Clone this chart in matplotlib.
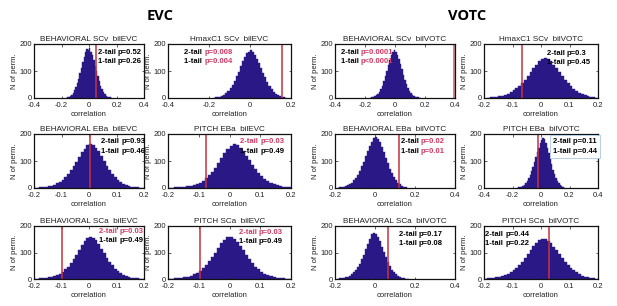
import numpy as np
import matplotlib
matplotlib.use('Agg')
import matplotlib.pyplot as plt

plt.rcParams['font.family'] = ['Liberation Sans', 'DejaVu Sans']

# Permutation histograms, bin width 0.01, counts
# (first bin left edge, counts)
evc_beh_scv_lo = -0.17
evc_beh_scv = [1, 2, 4, 7, 12, 19, 28, 40, 55, 72, 92, 112, 133, 152, 170, 182, 178,
               186, 172, 160, 140, 120, 100, 80, 62, 46, 33, 22, 14, 9, 5, 3, 2, 1]
evc_hmax_scv_lo = -0.18
evc_hmax_scv = [1, 2, 3, 5, 8, 12, 18, 26, 36, 48, 62, 80, 98, 118, 136, 152, 165, 172,
                176, 170, 160, 146, 130, 112, 94, 76, 60, 45, 33, 23, 15, 10, 6, 3, 2, 1]
votc_beh_scv_lo = -0.17
votc_beh_scv = [1, 2, 4, 6, 10, 16, 24, 34, 46, 62, 80, 100, 122, 142, 160, 172, 176,
                170, 160, 144, 126, 106, 86, 68, 52, 38, 27, 18, 12, 8, 5, 3, 2, 1]
votc_hmax_scv_lo = -0.19
votc_hmax_scv = [1, 2, 3, 4, 6, 9, 12, 16, 22, 28, 36, 46, 56, 68, 82, 96, 110, 124, 136,
                 146, 150, 145, 136, 124, 110, 96, 82, 68, 56, 45, 35, 27, 20, 14, 10, 6, 4, 2, 1]

evc_beh_eba_lo = -0.20
evc_beh_eba = [1, 1, 2, 3, 4, 6, 9, 12, 17, 23, 30, 40, 52, 66, 82, 98, 115, 132, 146, 158,
               164, 160, 150, 136, 118, 100, 82, 66, 51, 39, 29, 21, 15, 10, 7, 5, 3, 2, 1, 1]
evc_pitch_eba_lo = -0.20
evc_pitch_eba = [1, 1, 2, 2, 3, 4, 6, 8, 11, 15, 20, 27, 36, 47, 60, 75, 92, 110, 128, 144,
                 156, 164, 160, 150, 136, 120, 103, 86, 70, 56, 44, 34, 26, 19, 14, 10, 7, 5, 3, 2]
votc_beh_eba_lo = -0.19
votc_beh_eba = [1, 2, 3, 5, 7, 10, 14, 20, 28, 38, 50, 64, 80, 98, 118, 138, 156, 172, 184,
                190, 182, 170, 152, 132, 112, 92, 72, 56, 42, 30, 20, 13, 8, 4, 2]
votc_pitch_eba_lo = -0.17
votc_pitch_eba = [1, 2, 3, 5, 8, 12, 18, 26, 36, 48, 62, 78, 96, 114, 132, 150, 166, 176,
                  184, 180, 168, 150, 130, 108, 88, 68, 52, 38, 26, 17, 10, 6, 3, 1]

evc_beh_sca_lo = -0.20
evc_beh_sca = [1, 1, 2, 3, 4, 6, 8, 11, 15, 20, 27, 36, 47, 60, 75, 92, 110, 128, 144, 155,
               160, 156, 146, 132, 115, 98, 81, 65, 51, 39, 29, 21, 15, 10, 7, 5, 3, 2, 1, 1]
evc_pitch_sca_lo = -0.20
evc_pitch_sca = [1, 1, 2, 3, 4, 6, 9, 12, 17, 23, 31, 41, 53, 67, 83, 100, 118, 135, 148, 157,
                 158, 152, 140, 125, 108, 91, 75, 60, 47, 36, 27, 20, 14, 10, 7, 5, 3, 2, 1, 1]
votc_beh_sca_lo = -0.19
votc_beh_sca = [1, 2, 3, 4, 6, 9, 13, 18, 25, 34, 45, 58, 74, 92, 112, 132, 152, 168, 175,
                170, 158, 142, 122, 102, 82, 64, 48, 35, 25, 17, 11, 7, 4, 2, 1, 1]
votc_pitch_sca_lo = -0.20
votc_pitch_sca = [1, 2, 3, 4, 6, 8, 11, 15, 20, 26, 33, 42, 53, 66, 80, 95, 110, 124, 136, 146,
                  152, 150, 144, 135, 122, 108, 94, 80, 66, 54, 43, 33, 25, 18, 13, 9, 6, 4, 2, 1]

binw = 0.01

titles = ['BEHAVIORAL SCv  bilEVC', 'HmaxC1 SCv  bilEVC', 'BEHAVIORAL SCv  bilVOTC', 'HmaxC1 SCv  bilVOTC',
          'BEHAVIORAL EBa  bilEVC', 'PITCH EBa  bilEVC', 'BEHAVIORAL EBa  bilVOTC', 'PITCH EBa  bilVOTC',
          'BEHAVIORAL SCa  bilEVC', 'PITCH SCa  bilEVC', 'BEHAVIORAL SCa  bilVOTC', 'PITCH SCa  bilVOTC']
hists = [(evc_beh_scv_lo, evc_beh_scv), (evc_hmax_scv_lo, evc_hmax_scv),
         (votc_beh_scv_lo, votc_beh_scv), (votc_hmax_scv_lo, votc_hmax_scv),
         (evc_beh_eba_lo, evc_beh_eba), (evc_pitch_eba_lo, evc_pitch_eba),
         (votc_beh_eba_lo, votc_beh_eba), (votc_pitch_eba_lo, votc_pitch_eba),
         (evc_beh_sca_lo, evc_beh_sca), (evc_pitch_sca_lo, evc_pitch_sca),
         (votc_beh_sca_lo, votc_beh_sca), (votc_pitch_sca_lo, votc_pitch_sca)]
observed = [0.05, 0.155, 0.39, -0.065,
            0.005, -0.078, 0.122, -0.018,
            -0.1, -0.095, 0.066, 0.028]
xlims = [(-0.4, 0.4), (-0.4, 0.2), (-0.4, 0.4), (-0.2, 0.2),
         (-0.2, 0.2), (-0.2, 0.2), (-0.2, 0.4), (-0.4, 0.4),
         (-0.2, 0.2), (-0.2, 0.2), (-0.2, 0.4), (-0.2, 0.2)]
p_two = ['p=0.52', 'p=0.008', 'p=0.0001', 'p=0.3',
         'p=0.93', 'p=0.03', 'p=0.02', 'p=0.11',
         'p=0.03', 'p=0.03', 'p=0.17', 'p=0.44']
p_one = ['p=0.26', 'p=0.004', 'p<0.0001', 'p=0.45',
         'p=0.46', 'p=0.49', 'p=0.01', 'p=0.44',
         'p=0.49', 'p=0.49', 'p=0.08', 'p=0.22']
# which parts are drawn red: (2-tail label, 2-tail p, 1-tail p)
sig = [(0, 0, 0), (0, 1, 1), (0, 1, 1), (0, 0, 0),
       (0, 0, 0), (1, 1, 0), (0, 1, 1), (0, 0, 0),
       (1, 1, 0), (1, 1, 0), (0, 0, 0), (0, 0, 0)]

# layout in pixels
cols = [(34, 144), (168, 291), (335, 455), (484, 598)]
rows = [(44, 98), (134, 188), (226, 279)]
# text anchor (data x, y of first line bottom)
txt_pos = [(0.065, 156), (-0.32, 156), (-0.36, 156), (0.02, 152),
           (0.045, 158), (0.035, 158), (0.13, 158), (0.085, 156),
           (0.038, 166), (0.03, 162), (0.12, 156), (-0.195, 154)]

W, H = 617, 306
BLUE = '#2a1886'
RED = '#c8323c'
PRED = '#d23a62'
fs = 5.5

fig = plt.figure(figsize=(W / 100, H / 100), dpi=100)

for i in range(12):
    r, c = divmod(i, 4)
    x0, x1 = cols[c]
    y0, y1 = rows[r]
    ax = fig.add_axes([x0 / W, 1 - y1 / H, (x1 - x0) / W, (y1 - y0) / H])
    lo, counts = hists[i]
    edges = lo + binw * np.arange(len(counts))
    ax.bar(edges, counts, width=binw, align='edge', color=BLUE, edgecolor=BLUE, linewidth=0.3)
    if i == 2:
        ax.axvline(observed[i], color='#c98a8a', lw=2.2)
    else:
        ax.axvline(observed[i], color=RED, lw=1.1)
    ax.set_xlim(*xlims[i])
    ax.set_ylim(0, 200)
    ax.set_yticks([0, 100, 200])
    step = 0.1 if xlims[i][1] - xlims[i][0] < 0.5 else 0.2
    ax.set_xticks(np.round(np.arange(xlims[i][0], xlims[i][1] + 1e-9, step), 2))
    ax.xaxis.set_major_formatter(matplotlib.ticker.FuncFormatter(lambda v, p: '0' if abs(v) < 1e-9 else ('%g' % v)))
    ax.tick_params(direction='in', length=1.8, width=0.5, labelsize=fs, top=True, right=True,
                   colors='#222222')
    ax.tick_params(axis='x', pad=3.2)
    ax.tick_params(axis='y', pad=1.5)
    for s in ax.spines.values():
        s.set_linewidth(0.9)
        s.set_color('#111111')
    ax.set_title(titles[i], fontsize=fs + 0.4, pad=2, color='#222222')
    ax.set_xlabel('correlation', fontsize=fs, labelpad=1.2, color='#222222')
    ax.set_ylabel('N of perm.', fontsize=fs, labelpad=1.0, color='#222222')

    tx, ty = txt_pos[i]
    s1, s2, s3 = sig[i]
    kw = dict(fontsize=fs, fontweight='bold', va='bottom')
    if i == 7:
        box = dict(boxstyle='square,pad=0.4', fc='white', ec='#a9c8e8', lw=0.6)
        ax.text(tx, ty - 2, '2-tail ' + p_two[i] + '\n1-tail ' + p_one[i], fontsize=fs,
                fontweight='bold', va='center', bbox=box, linespacing=1.6)
        continue
    t1 = ax.text(tx, ty, '2-tail ', color=PRED if s1 else 'black', **kw)
    ax.annotate(p_two[i], xy=(1, 0), xycoords=t1, color=PRED if s2 else 'black', **kw)
    t2 = ax.text(tx, ty - 34, '1-tail ', color='black', **kw)
    ax.annotate(p_one[i], xy=(1, 0), xycoords=t2, color=PRED if s3 else 'black', **kw)

fig.text(160 / W, 1 - 16 / H, 'EVC', fontsize=10.5, fontweight='bold', ha='center', va='center',
         family=['Open Sans', 'DejaVu Sans'])
fig.text(467 / W, 1 - 16 / H, 'VOTC', fontsize=10.5, fontweight='bold', ha='center', va='center',
         family=['Open Sans', 'DejaVu Sans'])

fig.savefig('out.png', dpi=100, facecolor='white')
